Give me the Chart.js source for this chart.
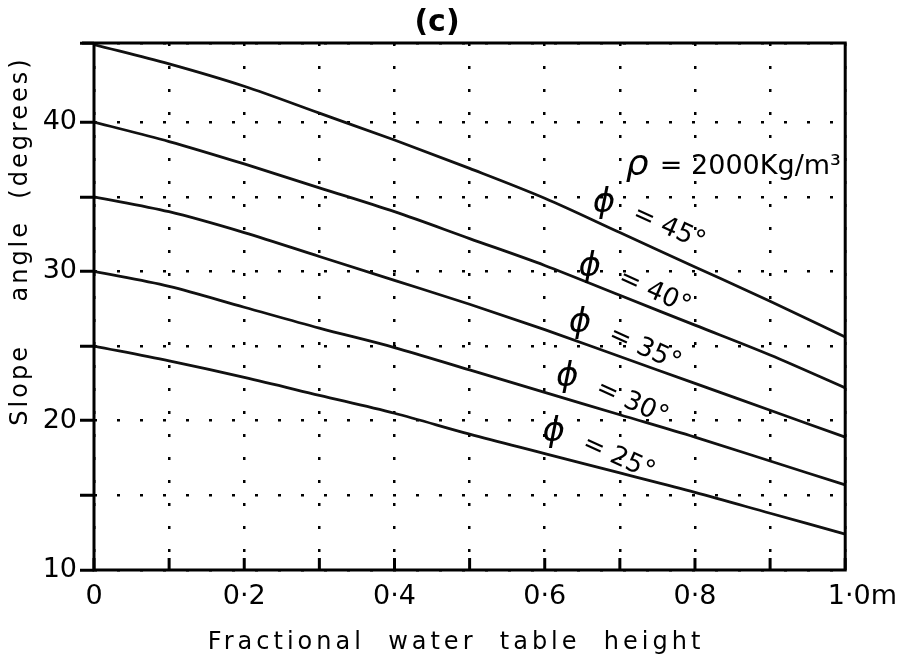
<!DOCTYPE html>
<html>
<head>
<meta charset="utf-8">
<script src="https://cdn.jsdelivr.net/npm/chart.js@4"></script>
<style>
  html, body { margin: 0; padding: 0; background: #fff; }
  #wrap { width: 908px; height: 663px; }
</style>
</head>
<body>
<div id="wrap"><canvas id="myChart" width="908" height="663"></canvas></div>
<script>
// fractional water table height (m)
var xValues = [0, 0.1, 0.2, 0.3, 0.4, 0.5, 0.6, 0.7, 0.8, 0.9, 1.0];

// slope angle (degrees) for each friction angle
var phi45 = [45.2, 43.9, 42.4, 40.6, 38.8, 36.9, 34.9, 32.6, 30.3, 28.0, 25.6];
var phi40 = [40, 38.7, 37.2, 35.6, 34.0, 32.2, 30.4, 28.4, 26.4, 24.4, 22.2];
var phi35 = [35, 34.0, 32.6, 31.0, 29.4, 27.8, 26.1, 24.3, 22.5, 20.7, 18.9];
var phi30 = [30, 29.0, 27.6, 26.2, 24.9, 23.4, 21.9, 20.4, 18.9, 17.3, 15.7];
var phi25 = [25, 24.0, 22.9, 21.7, 20.5, 19.1, 17.8, 16.5, 15.2, 13.8, 12.4];

var seriesNames = ["45°", "40°", "35°", "30°", "25°"];
// where the "ϕ = .." label sits (data coords of the ϕ glyph)
var labelX = [0.679, 0.660, 0.647, 0.630, 0.612];
var labelY = [34.6, 30.3, 26.5, 22.9, 19.2];

var xTickLabels = ["0", "", "0·2", "", "0·4", "", "0·6", "", "0·8", "", "    1·0m"];
var yTickLabels = [10, 20, 30, 40];

var titleText = "(c)";
var xTitle = "Fractional  water  table  height";
var yTitle = "Slope    angle  (degrees)";
var densityText = "= 2000Kg/m³";

const FONT = "'DejaVu Sans', sans-serif";

function makeSet(vals) {
  return {
    data: xValues.map((x, i) => ({x: x, y: vals[i]})),
    borderColor: "#111",
    borderWidth: 2.8,
    pointRadius: 0,
    cubicInterpolationMode: "monotone",
    fill: false
  };
}

const decor = {
  id: "decor",
  afterDraw(chart) {
    const ctx = chart.ctx;
    const a = chart.chartArea;
    const xs = chart.scales.x, ys = chart.scales.y;
    ctx.save();
    ctx.strokeStyle = "#000";
    ctx.lineWidth = 3;
    // frame
    ctx.beginPath();
    ctx.moveTo(a.left - 12, a.top);
    ctx.lineTo(a.right, a.top);
    ctx.lineTo(a.right, a.bottom);
    ctx.lineTo(a.left, a.bottom);
    ctx.lineTo(a.left, a.top);
    ctx.stroke();
    // inward ticks on x axis
    xs.ticks.forEach(t => {
      const px = xs.getPixelForValue(t.value);
      ctx.beginPath();
      ctx.moveTo(px, a.bottom);
      ctx.lineTo(px, a.bottom - 12);
      ctx.stroke();
    });

    ctx.fillStyle = "#000";
    // title
    ctx.font = "bold 30px " + FONT;
    ctx.textAlign = "center";
    ctx.textBaseline = "middle";
    ctx.fillText(titleText, 437, 23);

    // x title
    ctx.font = "24px " + FONT;
    ctx.letterSpacing = "4px";
    ctx.fillText(xTitle, 456, 643);

    // y title
    ctx.save();
    ctx.translate(21, 241);
    ctx.rotate(-Math.PI / 2);
    ctx.letterSpacing = "3px";
    ctx.fillText(yTitle, 0, 0);
    ctx.restore();
    ctx.letterSpacing = "0px";

    // density note
    const dx = xs.getPixelForValue(0.716), dy = ys.getPixelForValue(37.1);
    ctx.font = "italic 36px " + FONT;
    ctx.textAlign = "left";
    ctx.fillText("ρ", dx - 6, dy);
    ctx.font = "27px " + FONT;
    ctx.fillText(densityText, dx + 28, dy + 2);

    // phi labels
    seriesNames.forEach((name, i) => {
      const px = xs.getPixelForValue(labelX[i]);
      const py = ys.getPixelForValue(labelY[i]);
      ctx.font = "italic 34px " + FONT;
      ctx.textAlign = "center";
      ctx.fillText("ϕ", px, py);
      ctx.save();
      ctx.translate(px + 30, py + 10);
      ctx.rotate(24 * Math.PI / 180);
      ctx.font = "26px " + FONT;
      ctx.textAlign = "left";
      ctx.fillText("= " + name, 0, 0);
      ctx.restore();
    });
    ctx.restore();
  }
};

new Chart("myChart", {
  type: "line",
  data: {
    datasets: [makeSet(phi45), makeSet(phi40), makeSet(phi35), makeSet(phi30), makeSet(phi25)]
  },
  options: {
    responsive: false,
    animation: false,
    layout: { padding: { top: 43, right: 58, left: 0, bottom: 0 } },
    plugins: { legend: { display: false }, tooltip: { enabled: false } },
    scales: {
      x: {
        type: "linear",
        min: 0,
        max: 1,
        ticks: {
          stepSize: 0.1,
          autoSkip: false,
          maxRotation: 0,
          padding: 11,
          color: "#000",
          font: { family: FONT, size: 27 },
          callback: (v, i) => xTickLabels[i]
        },
        grid: { color: "#000", lineWidth: 2.5, drawTicks: false },
        border: { display: false, dash: [3, 20] },
        afterFit: s => { s.height = 93; }
      },
      y: {
        min: 10,
        max: 45.3,
        ticks: {
          stepSize: 5,
          padding: 3,
          color: "#000",
          font: { family: FONT, size: 27 },
          callback: v => yTickLabels.includes(v) ? String(v) : ""
        },
        grid: { color: "#000", lineWidth: 2.5, tickLength: 14, tickColor: "#000", tickWidth: 3 },
        border: { display: false, dash: [3, 20] },
        afterFit: s => { s.width = 94; }
      }
    }
  },
  plugins: [decor]
});
</script>
</body>
</html>
